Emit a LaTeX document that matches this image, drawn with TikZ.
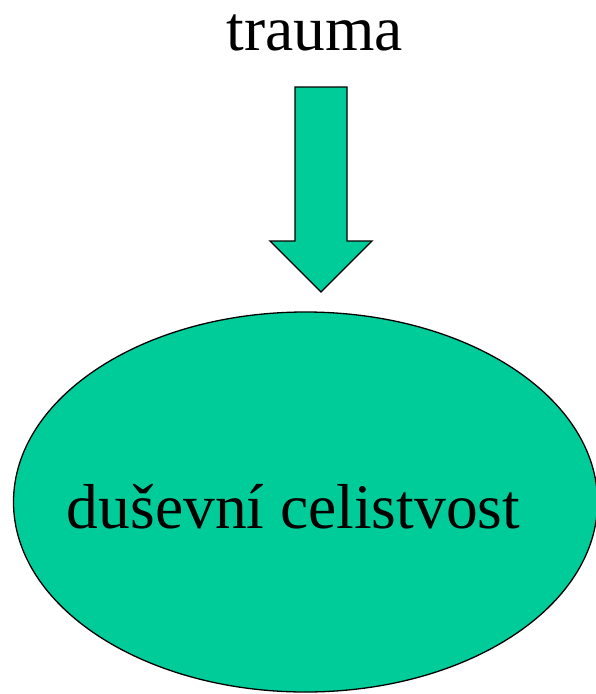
\documentclass[tikz,border=0pt]{standalone}
\usepackage{fontspec}
\setmainfont{Liberation Serif}
\usetikzlibrary{shapes.geometric}
\definecolor{teal1}{HTML}{00CC99}
\tikzset{
  shapefill/.style={fill=teal1, draw=black, line width=1.3pt, line join=miter},
  bigtext/.style={font=\fontsize{63.5}{70}\selectfont, inner sep=0pt, anchor=base}
}
\begin{document}
\begin{tikzpicture}[x=1pt,y=-1pt]
\useasboundingbox (0,0) rectangle (596,694);
\node[bigtext] (trauma) at (314.5,50) {trauma};
\draw[shapefill] (295,87) -- (347,87) -- (347,241) -- (372,241) -- (321,292) -- (270,241) -- (295,241) -- cycle;
\node[shapefill, ellipse, minimum width=584pt, minimum height=380pt, inner sep=0pt] (whole) at (305.5,502) {};
\node[bigtext] (label) at (293.5,528) {duševní celistvost};
\end{tikzpicture}
\end{document}
